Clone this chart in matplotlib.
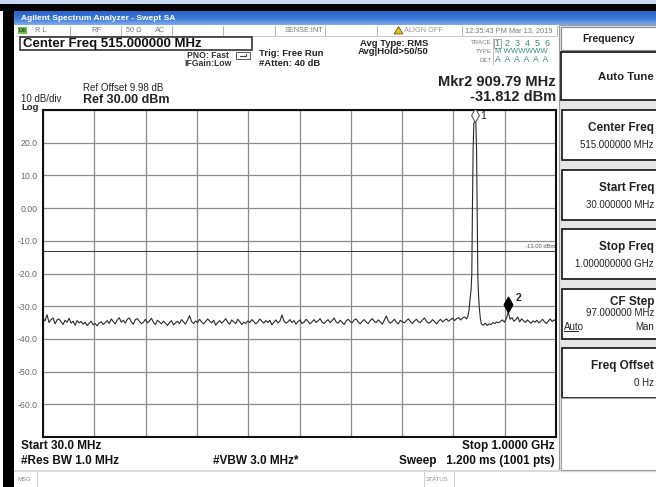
import numpy as np
import matplotlib.pyplot as plt
from matplotlib.patches import Rectangle, Polygon
from matplotlib.path import Path

plt.rcParams['font.family'] = ['Liberation Sans', 'DejaVu Sans']

# sweep settings
start_mhz = 30.0
stop_mhz = 1000.0
ref_dbm = 30.0
bottom_dbm = -70.0
limit_dbm = -13.0

# noise floor left of the carrier (30 .. 831 MHz), read about every 2 px
noise_left_stop_mhz = 831.0
noise_left_dbm = [
    -33.8, -34.5, -32.6, -35.0, -34.1, -33.6, -35.4, -34.2, -33.9, -34.8, -35.6, -34.3, -34.9, -33.7, -35.2, -34.6, -35.8, -34.4, -35.1, -34.7,
    -35.5, -34.9, -35.9, -35.2, -34.6, -35.7, -35.3, -36.0, -35.1, -34.8, -35.6, -35.0, -34.4, -35.3, -33.9, -34.7, -35.4, -34.2, -33.5, -34.9,
    -34.3, -35.2, -34.0, -33.6, -34.8, -35.5, -34.1, -33.8, -34.6, -35.3, -34.9, -34.0, -35.1, -34.5, -33.7, -34.9, -35.6, -34.3, -34.8, -35.4,
    -34.6, -35.2, -35.9, -35.0, -34.4, -35.7, -35.1, -34.6, -35.3, -34.1, -34.8, -35.5, -34.2, -32.9, -34.7, -35.3, -34.5, -35.0, -34.0, -34.8,
    -35.4, -34.7, -33.9, -34.5, -35.1, -34.3, -35.8, -35.0, -34.4, -35.2, -34.6, -33.8, -34.9, -35.5, -34.2, -34.8, -35.3, -34.0, -34.7, -35.6,
    -34.9, -35.3, -34.5, -35.0, -34.1, -34.7, -35.4, -34.8, -33.9, -34.6, -35.2, -34.4, -35.0, -34.3, -35.7, -34.9, -34.2, -35.1, -34.6, -32.7,
    -34.5, -35.2, -34.8, -34.1, -35.0, -34.4, -35.5, -34.7, -34.2, -35.3, -34.9, -34.0, -34.6, -35.4, -34.8, -34.1, -35.0, -34.5, -33.8, -34.9,
    -35.3, -34.6, -34.1, -35.0, -34.4, -33.6, -34.8, -35.2, -34.3, -34.9, -35.6, -34.5, -34.0, -34.7, -35.1, -34.2, -33.9, -34.8, -35.4, -34.6,
    -34.1, -34.9, -35.3, -34.4, -33.8, -34.6, -35.0, -34.2, -34.8, -35.5, -34.3, -33.0, -34.5, -35.2, -34.7, -34.0, -34.9, -35.4, -34.3, -34.8,
    -35.1, -34.4, -33.9, -34.7, -35.3, -34.5, -34.0, -34.8, -35.0, -34.2, -33.6, -34.6, -35.2, -34.9, -34.1, -34.7, -35.4, -34.6, -34.0, -34.8,
    -34.3, -33.9, -34.6, -34.1, -33.7, -34.4, -33.8, -33.5, -34.2, -33.6, -33.3, -33.9,
]

# carrier
carrier_mhz = [833.5, 835.5, 837.5, 839.5, 840.8, 842.0, 843.3, 844.6, 846.5,
               848.4, 849.8, 851.0, 852.2, 853.5, 855.0, 857.0]
carrier_dbm = [-33.0, -31.2, -27.8, -24.8, -20.0, 0.0, 18.0, 26.0, 26.3,
               26.0, 18.0, 0.0, -21.0, -26.5, -30.5, -33.8]

# noise floor right of the carrier (859 .. 1000 MHz)
noise_right_start_mhz = 859.0
noise_right_dbm = [
    -35.5, -35.8, -35.2, -35.9, -35.4, -35.6, -35.0, -35.3, -34.8, -35.1,
    -34.6, -34.2, -34.9, -33.8, -31.8, -34.0, -33.5, -34.6, -34.1, -33.3,
    -34.8, -33.9, -34.4, -35.0, -34.2, -34.7, -35.2, -34.5, -34.9, -34.3,
    -35.1, -34.6, -34.0, -34.8, -35.3, -34.5, -33.9, -34.7, -34.2, -34.6,
]

marker_mhz = [846.5, 909.79]
marker_dbm = [26.3, -31.812]

ytick_dbm = [-70, -60, -50, -40, -30, -20, -10, 0, 10, 20, 30]
ytick_labels = ['', '-60.0', '-50.0', '-40.0', '-30.0', '-20.0', '-10.0', '0.00', '10.0', '20.0', '']

W, H = 656, 487
fig = plt.figure(figsize=(W / 100, H / 100), dpi=100)

# screen background drawn in pixel coordinates
bg = fig.add_axes([0, 0, 1, 1])
bg.set_xlim(0, W)
bg.set_ylim(H, 0)
bg.axis('off')

def rect(x0, y0, x1, y1, fc='white', ec='none', lw=1.0, z=1):
    bg.add_patch(Rectangle((x0, y0), x1 - x0, y1 - y0, facecolor=fc,
                           edgecolor=ec, linewidth=lw, zorder=z))

def txt(x, y, s, size=7, weight='normal', ha='left', color='#111111', **kw):
    bg.text(x, y, s, fontsize=size, fontweight=weight, ha=ha, va='center',
            color=color, zorder=5, **kw)

rect(0, 0, W, H, fc='white', z=0)
rect(0, 0, W, 4, fc='#c9d9ef')
rect(0, 4, W, 11, fc='black')
rect(3, 4, 14, H, fc='black')
grad = np.linspace(0, 1, 20).reshape(-1, 1)
bg.imshow(grad, extent=[14, W, 25, 11], aspect='auto', zorder=1,
          cmap=plt.matplotlib.colors.LinearSegmentedColormap.from_list(
              'bar', ['#2a63c6', '#3a78d8', '#7eaaea']))
txt(21, 18, 'Agilent Spectrum Analyzer - Swept SA', size=6, weight='bold', color='white')

# RL status row
for xd in [70, 121, 172, 223, 275, 325, 377, 462, 557]:
    bg.plot([xd, xd], [26, 35], color='#b5b5b5', lw=0.7, zorder=2)
bg.plot([16, 557], [35.5, 35.5], color='#c8c8c8', lw=0.7, zorder=2)
rect(18, 26.5, 27, 33.5, fc='#6cc04a', z=3)
txt(19, 30.2, 'LXI', size=3.5, weight='bold', color='#1b3a10')
small_gray = '#7a7a7a'
txt(35, 30.5, 'R L', size=5.3, color=small_gray)
txt(91, 30.5, 'RF', size=5.3, color=small_gray)
txt(126, 30.5, '50 Ω', size=5.3, color=small_gray)
txt(155, 30.5, 'AC', size=5.3, color=small_gray)
txt(323, 30.5, 'SENSE:INT', size=5.3, ha='right', color=small_gray)
bg.add_patch(Polygon([[394, 34], [398.5, 26.5], [403, 34]], closed=True,
                     facecolor='#e8c400', edgecolor='#444444', lw=0.5, zorder=3))
txt(404, 30.5, 'ALIGN OFF', size=5.3, color='#9a9a9a')
txt(465, 30.5, '12:35:43 PM Mar 13, 2019', size=5.3, color=small_gray)

# header block
rect(20, 36.5, 252, 50, fc='white', ec='#222222', lw=1.1, z=2)
txt(23, 43.5, 'Center Freq 515.000000 MHz', size=9.5, weight='bold')
txt(229, 55.5, 'PNO: Fast', size=6.2, weight='bold', ha='right', color='#333333')
txt(232, 64, 'IFGain:Low', size=6.2, weight='bold', ha='right', color='#333333')
rect(236, 52, 250, 58.5, fc='white', ec='#555555', lw=0.7, z=2)
bg.plot([240, 246, 246], [55.5, 55.5, 53.5], color='#444444', lw=0.8, zorder=3)
txt(259, 53.5, 'Trig: Free Run', size=6.8, weight='bold', color='#222222')
txt(259, 63, '#Atten: 40 dB', size=6.8, weight='bold', color='#222222')
txt(360, 43, 'Avg Type: RMS', size=6.8, weight='bold', color='#222222')
txt(358, 52, 'Avg|Hold>50/50', size=6.8, weight='bold', color='#222222')

# trace table
txt(492, 43, 'TRACE', size=4.4, ha='right', color=small_gray)
txt(492, 51.5, 'TYPE', size=4.4, ha='right', color=small_gray)
txt(492, 60, 'DET', size=4.4, ha='right', color=small_gray)
rect(493.5, 38.5, 501, 47.5, fc='white', ec='#8aa08a', lw=0.6, z=2)
txt(495, 43, '1  2  3  4  5  6', size=6.5, color='#3f8a7a')
txt(495, 51.5, 'M WWWWWW', size=5.6, color='#3f8a7a')
txt(495, 60, 'A  A  A  A  A  A', size=6.2, color='#3f8a7a')
bg.plot([493, 493], [38, 64], color='#b5b5b5', lw=0.6, zorder=2)

txt(556, 82, 'Mkr2 909.79 MHz', size=10.5, weight='bold', ha='right', color='#222222')
txt(556, 97, '-31.812 dBm', size=10.5, weight='bold', ha='right', color='#222222')
txt(83, 88, 'Ref Offset 9.98 dB', size=7, color='#222222')
txt(21, 99.5, '10 dB/div', size=7, color='#222222')
txt(83, 100, 'Ref 30.00 dBm', size=9, weight='bold', color='#222222')
txt(21, 107.8, 'Log', size=6.8, weight='bold', color='#222222')

# footer
txt(21, 446, 'Start 30.0 MHz', size=8.5, weight='bold')
txt(21, 461, '#Res BW 1.0 MHz', size=8.5, weight='bold')
txt(213, 461, '#VBW 3.0 MHz*', size=8.5, weight='bold')
txt(555, 446, 'Stop 1.0000 GHz', size=8.5, weight='bold', ha='right')
txt(555, 461, 'Sweep   1.200 ms (1001 pts)', size=8.5, weight='bold', ha='right')
rect(14, 469.5, W, 471.5, fc='#dadada', z=2)
for xd in [37, 424, 454]:
    bg.plot([xd, xd], [472, H], color='#d0d0d0', lw=0.8, zorder=2)
txt(17, 479.5, 'MSG', size=4.3, color='#8a8a8a')
txt(426, 479.5, 'STATUS', size=4.3, color='#8a8a8a')

# softkey panel
rect(559, 25, W + 2, 471, fc='#e6e6e6', ec='#9a9a9a', lw=0.8, z=1)
rect(561, 26.5, W + 2, 50, fc='white', ec='#8c8c8c', lw=0.8, z=2)
txt(609, 38.5, 'Frequency', size=7.5, weight='bold', ha='center', color='#222222')
rect(561, 51.5, W + 2, 100, fc='white', ec='#222222', lw=1.3, z=2)
txt(654, 76.5, 'Auto Tune', size=8.2, weight='bold', ha='right', color='#222222')
keys = [('Center Freq', '515.000000 MHz'), ('Start Freq', '30.000000 MHz'),
        ('Stop Freq', '1.000000000 GHz'), ('CF Step', '97.000000 MHz'),
        ('Freq Offset', '0 Hz')]
for i, (name, value) in enumerate(keys):
    top = 110 + 59.5 * i
    rect(562, top, W + 2, top + 50, fc='white', ec='#222222', lw=1.3, z=2)
    if name == 'CF Step':
        txt(654, top + 13, name, size=8.5, weight='bold', ha='right', color='#222222')
        txt(654, top + 25, value, size=7, ha='right', color='#222222')
        txt(564, top + 38, 'Auto', size=7, color='#222222')
        bg.plot([564, 578], [top + 42.5, top + 42.5], color='#222222', lw=0.7, zorder=5)
        txt(654, top + 38, 'Man', size=7, ha='right', color='#222222')
    else:
        txt(654, top + 18, name, size=8.5, weight='bold', ha='right', color='#222222')
        txt(654, top + 35, value, size=7, ha='right', color='#222222')
rect(561, 398, W + 2, 470, fc='white', ec='#a0a0a0', lw=0.8, z=2)

# graticule
ax = fig.add_axes([43 / W, 1 - 437 / H, 513 / W, 327 / H])
ax.set_xlim(start_mhz, stop_mhz)
ax.set_ylim(bottom_dbm, ref_dbm)
ax.set_xticks(np.linspace(start_mhz, stop_mhz, 11))
ax.set_xticklabels([])
ax.set_yticks(ytick_dbm)
ax.set_yticklabels(ytick_labels)
ax.tick_params(length=0, labelsize=6.3, labelcolor='#6a6a6a', pad=4)
ax.grid(True, color='#8c8c8c', lw=0.9)
for s in ax.spines.values():
    s.set_color('#111111')
    s.set_linewidth(1.5)

ax.axhline(limit_dbm, color='#333333', lw=0.7)
ax.text(998, limit_dbm + 0.6, '-13.00 dBm', fontsize=4.2, color='#555555',
        ha='right', va='bottom')

f_left = np.linspace(start_mhz, noise_left_stop_mhz, len(noise_left_dbm))
f_right = np.linspace(noise_right_start_mhz, stop_mhz, len(noise_right_dbm))
freq = np.concatenate([f_left, carrier_mhz, f_right])
level = np.concatenate([noise_left_dbm, carrier_dbm, noise_right_dbm])
ax.plot(freq, level, color='#2a2a2a', lw=0.8)

# markers: diamond with its lower tip on the trace point
tip = Path([(0, 0), (-0.28, 0.5), (0, 1), (0.28, 0.5), (0, 0)],
           [Path.MOVETO, Path.LINETO, Path.LINETO, Path.LINETO, Path.CLOSEPOLY])
ax.plot(marker_mhz[0], marker_dbm[0], marker=tip, ms=20, mfc='white',
        mec='#555555', mew=0.8, zorder=4)
ax.plot(marker_mhz[1], marker_dbm[1], marker=tip, ms=22, mfc='black',
        mec='black', zorder=4)
ax.annotate('1', (marker_mhz[0], marker_dbm[0]), xytext=(5, 6),
            textcoords='offset pixels', fontsize=7.5, color='#222222', va='center')
ax.annotate('2', (marker_mhz[1], marker_dbm[1]), xytext=(7, 14),
            textcoords='offset pixels', fontsize=7.5, weight='bold', color='#222222', va='center')

fig.savefig('out.png', dpi=100)
